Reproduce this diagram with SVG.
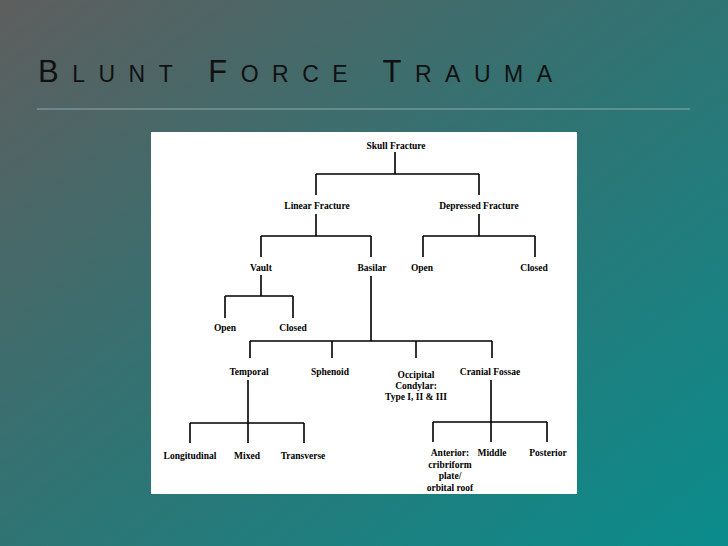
<svg xmlns="http://www.w3.org/2000/svg" width="728" height="546" viewBox="0 0 728 546">
<defs>
<linearGradient id="bg" x1="0" y1="0" x2="1" y2="1">
<stop offset="0" stop-color="#5e5e5e"/><stop offset="0.5" stop-color="#2f7474"/><stop offset="1" stop-color="#0a8c8c"/>
</linearGradient>
<style>
.t{font-family:"Liberation Serif",serif;font-weight:bold;font-size:9.5px;fill:#000;text-anchor:middle}
.c path{stroke:#000;stroke-width:1.6;fill:none}
</style>
</defs>
<rect width="728" height="546" fill="url(#bg)"/>
<text x="38" y="82" font-family="'Liberation Sans',sans-serif" font-size="31" fill="#111" textLength="514" lengthAdjust="spacing">B<tspan font-size="23">LUNT</tspan> F<tspan font-size="23">ORCE</tspan> T<tspan font-size="23">RAUMA</tspan></text>
<line x1="37" y1="109" x2="690" y2="109" stroke="#8fa9a9" stroke-width="1"/>
<rect x="151" y="132" width="426" height="362" fill="#fff"/>
<g class="c" id="connectors">
<path d="M395 152V174M316 174H479M316 174V195M479 174V195"/>
<path d="M316 214V236M261 236H371M261 236V257M371 236V257"/>
<path d="M479 214V236M423 236H535M423 236V257M535 236V257"/>
<path d="M261 275V296M225 296H293M225 296V318M293 296V318"/>
<path d="M371 276V341M250 341H492M250 341V358M332 341V358M416 341V358M492 341V358"/>
<path d="M248 380V423M190 423H304M190 423V443M248 423V443M304 423V443"/>
<path d="M491 380V442M433 422H547M433 422V442M547 422V442"/>
</g>
<g id="n-skull"><text class="t" x="396" y="149">Skull Fracture</text></g>
<g id="n-linear"><text class="t" x="317" y="209">Linear Fracture</text></g>
<g id="n-depressed"><text class="t" x="479" y="209">Depressed Fracture</text></g>
<g id="n-vault"><text class="t" x="261" y="271">Vault</text></g>
<g id="n-basilar"><text class="t" x="372" y="271">Basilar</text></g>
<g id="n-dopen"><text class="t" x="422" y="271">Open</text></g>
<g id="n-dclosed"><text class="t" x="534" y="271">Closed</text></g>
<g id="n-vopen"><text class="t" x="225" y="331">Open</text></g>
<g id="n-vclosed"><text class="t" x="293" y="331">Closed</text></g>
<g id="n-temporal"><text class="t" x="249" y="375">Temporal</text></g>
<g id="n-sphenoid"><text class="t" x="330" y="375">Sphenoid</text></g>
<g id="n-occipital"><text class="t" x="416" y="378">Occipital<tspan x="416" dy="11">Condylar:</tspan><tspan x="416" dy="11">Type I, II &amp; III</tspan></text></g>
<g id="n-cranial"><text class="t" x="490" y="375">Cranial Fossae</text></g>
<g id="n-long"><text class="t" x="190" y="459">Longitudinal</text></g>
<g id="n-mixed"><text class="t" x="247" y="459">Mixed</text></g>
<g id="n-trans"><text class="t" x="303" y="459">Transverse</text></g>
<g id="n-anterior"><text class="t" x="450" y="456">Anterior:<tspan x="450" dy="11.5">cribriform</tspan><tspan x="450" dy="11.5">plate/</tspan><tspan x="450" dy="11.5">orbital roof</tspan></text></g>
<g id="n-middle"><text class="t" x="492" y="456">Middle</text></g>
<g id="n-posterior"><text class="t" x="548" y="456">Posterior</text></g>
</svg>
